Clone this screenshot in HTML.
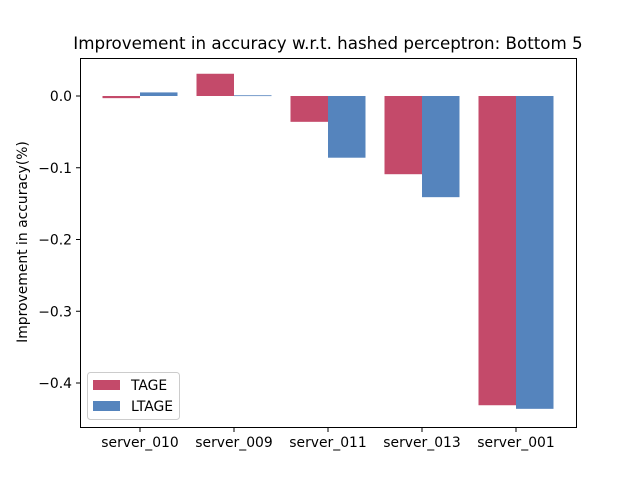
<!DOCTYPE html>
<html><head><meta charset="utf-8"><style>
html,body{margin:0;padding:0;background:#fff;}
svg{display:block;font-family:"DejaVu Sans","Liberation Sans",sans-serif;}
</style></head><body>
<svg id="chart" width="640" height="480" xmlns="http://www.w3.org/2000/svg">
<rect width="640" height="480" fill="#fff"/>
<text x="328" y="49" text-anchor="middle" font-size="16.7" fill="#000">Improvement in accuracy w.r.t. hashed perceptron: Bottom 5</text>
<text transform="translate(27,242) rotate(-90)" text-anchor="middle" font-size="13.9" fill="#000">Improvement in accuracy(%)</text>
<g id="bars"></g>
<g id="yticks"></g>
<g id="xticks"></g>
<rect x="80.5" y="58.5" width="496" height="369" fill="none" stroke="#000" stroke-width="1"/>
<g>
<rect x="87.5" y="372.5" width="92" height="47" rx="3" fill="#fff" fill-opacity="0.8" stroke="#ccc"/>
<g><rect x="93" y="380" width="27" height="10" fill="#c44a6a"/><text x="131" y="390" font-size="13.9">TAGE</text></g>
<g><rect x="93" y="401" width="27" height="10" fill="#5584bd"/><text x="131" y="411" font-size="13.9">LTAGE</text></g>
</g>
</svg>
<script>
const categories = ["server_010","server_009","server_011","server_013","server_001"];
const tageValues = [-0.003, 0.031, -0.036, -0.109, -0.431];
const ltageValues = [0.005, 0.001, -0.086, -0.141, -0.436];
const yTicks = [0.0, -0.1, -0.2, -0.3, -0.4];
const yTickLabels = ["0.0","\u22120.1","\u22120.2","\u22120.3","\u22120.4"];

const NS = "http://www.w3.org/2000/svg";
const y0px = 96, pxPerUnit = 717.5;
function yScale(v){ return y0px - v * pxPerUnit; }
const firstCenter = 140, step = 94, barW = 37.5;
function xCenter(i){ return firstCenter + i * step; }

const bars = document.getElementById('bars');
function addBar(i, v, color, offset, name){
  const r = document.createElementNS(NS,'rect');
  const a = yScale(v), b = yScale(0);
  r.setAttribute('x', xCenter(i) + offset);
  r.setAttribute('y', Math.min(a,b));
  r.setAttribute('width', barW);
  r.setAttribute('height', Math.max(Math.abs(a-b), 0.8));
  r.setAttribute('fill', color);
  
  
  bars.appendChild(r);
}
categories.forEach((c,i)=>{
  addBar(i, tageValues[i], '#c44a6a', -barW, 'bar-tage-' + c);
  addBar(i, ltageValues[i], '#5584bd', 0, 'bar-ltage-' + c);
});

const yt = document.getElementById('yticks');
yTicks.forEach((v,i)=>{
  const y = yScale(v);
  const l = document.createElementNS(NS,'line');
  l.setAttribute('x1',76); l.setAttribute('x2',80.5);
  l.setAttribute('y1',y); l.setAttribute('y2',y);
  l.setAttribute('stroke','#000');
  
  
  yt.appendChild(l);
  const t = document.createElementNS(NS,'text');
  t.setAttribute('x',72); t.setAttribute('y',y+5);
  t.setAttribute('text-anchor','end'); t.setAttribute('font-size','13.9');
  t.textContent = yTickLabels[i];
  
  
  yt.appendChild(t);
});

const xt = document.getElementById('xticks');
categories.forEach((c,i)=>{
  const x = xCenter(i);
  const l = document.createElementNS(NS,'line');
  l.setAttribute('x1',x); l.setAttribute('x2',x);
  l.setAttribute('y1',427.5); l.setAttribute('y2',432);
  l.setAttribute('stroke','#000');
  
  
  xt.appendChild(l);
  const t = document.createElementNS(NS,'text');
  t.setAttribute('x',x); t.setAttribute('y',447);
  t.setAttribute('text-anchor','middle'); t.setAttribute('font-size','13.9');
  t.textContent = c;
  
  
  xt.appendChild(t);
});
</script>
</body></html>
